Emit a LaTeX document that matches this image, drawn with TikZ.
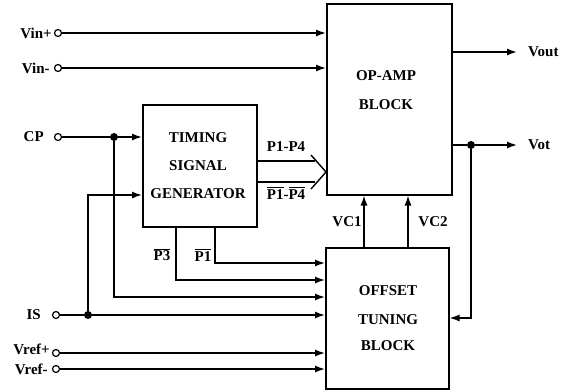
\documentclass[tikz,border=0pt]{standalone}
\usepackage{fontspec}
\setmainfont{Liberation Serif}
\usetikzlibrary{arrows.meta,positioning,calc}
\newcommand\barsig[1]{\vbox{\hrule height 1pt\kern1.2pt\hbox{#1}}}

\begin{document}
\begin{tikzpicture}[x=1pt,y=-1pt,
  every node/.style={font=\fontsize{15}{17}\selectfont\bfseries, align=center, inner sep=1pt},
  wire/.style={line width=1.4pt},
  sig/.style={wire, -{Latex[length=10pt,width=7pt]}},
  blockbox/.style={draw, line width=1.5pt, inner sep=0pt, anchor=north west},
  pin/.style={circle, draw, line width=1.2pt, fill=white, minimum size=7pt, inner sep=0pt},
  junc/.style={circle, fill, minimum size=8pt, inner sep=0pt}]
  \useasboundingbox (0,0) rectangle (569,391);

  % blocks
  \node[blockbox, minimum width=125, minimum height=191] (opamp) at (326,3) {};
  \node[blockbox, minimum width=114, minimum height=122] (tsg) at (142,104) {};
  \node[blockbox, minimum width=123, minimum height=141] (offset) at (325,247) {};
  \node (opamptxt) at (386,90) {OP-AMP\\[12pt]BLOCK};
  \node (tsgtxt) at (198,166) {TIMING\\[11pt]SIGNAL\\[11pt]GENERATOR};
  \node (offsettxt) at (388,318) {OFFSET\\[12pt]TUNING\\[9pt]BLOCK};

  % input pins
  \node[pin] (vinp) at (58,33) {};
  \node[pin] (vinm) at (58,68) {};
  \node[pin] (cp) at (58,137) {};
  \node[pin] (is) at (56,315) {};
  \node[pin] (vrefp) at (56,353) {};
  \node[pin] (vrefm) at (56,369) {};
  \node[left=1pt of vinp] {Vin+};
  \node[left=3pt of vinm] {Vin-};
  \node[left=9pt of cp] {CP};
  \node[left=10pt of is] {IS};
  \node[left=1pt of vrefp, yshift=4pt] {Vref+};
  \node[left=3pt of vrefm] {Vref-};

  % op-amp inputs
  \draw[sig] (vinp) -- (vinp -| opamp.west);
  \draw[sig] (vinm) -- (vinm -| opamp.west);

  % clock and reset
  \node[junc] (cpj) at (114,137) {};
  \node[junc] (isj) at (88,315) {};
  \draw[wire] (cp) -- (cpj);
  \draw[sig] (cpj) -- (cpj -| tsg.west);
  \draw[sig] (cpj) |- (offset.west |- 0,297);
  \draw[wire] (is) -- (isj);
  \draw[sig] (isj) -- (isj -| offset.west);
  \draw[sig] (isj) |- (tsg.west |- 0,195);

  % references
  \draw[sig] (vrefp) -- (vrefp -| offset.west);
  \draw[sig] (vrefm) -- (vrefm -| offset.west);

  % phases to the tuning block
  \draw[sig] (tsg.south -| 176,0) |- (offset.west |- 0,280);
  \draw[sig] (tsg.south -| 215,0) |- (offset.west |- 0,263);
  \node (p3b) at (162,255) {\barsig{P3}};
  \node (p1b) at (203,255) {\barsig{P1}};

  % phase bus
  \coordinate (bustip) at (opamp.west |- 0,172);
  \draw[wire] (tsg.east |- 0,161) -- (315,161);
  \draw[wire] (tsg.east |- 0,182) -- (315,182);
  \draw[wire] (311,155) -- (bustip) -- (311,189);
  \node (pbus) at (286,147) {P1-P4};
  \node (pbusb) at (286,193) {\barsig{P1}-\barsig{P4}};

  % control voltages
  \draw[sig] (offset.north -| 364,0) -- (opamp.south -| 364,0);
  \draw[sig] (offset.north -| 408,0) -- (opamp.south -| 408,0);
  \node (vc1) at (347,222) {VC1};
  \node (vc2) at (433,222) {VC2};

  % outputs
  \coordinate (vout) at (517,52);
  \coordinate (vot) at (517,145);
  \draw[sig] (opamp.east |- vout) -- (vout);
  \node[right=10pt of vout] {Vout};
  \node[junc] (votj) at (471,145) {};
  \draw[wire] (opamp.east |- votj) -- (votj);
  \draw[sig] (votj) -- (vot);
  \node[right=10pt of vot] {Vot};
  \draw[sig] (votj) |- (offset.east |- 0,318);
\end{tikzpicture}
\end{document}
